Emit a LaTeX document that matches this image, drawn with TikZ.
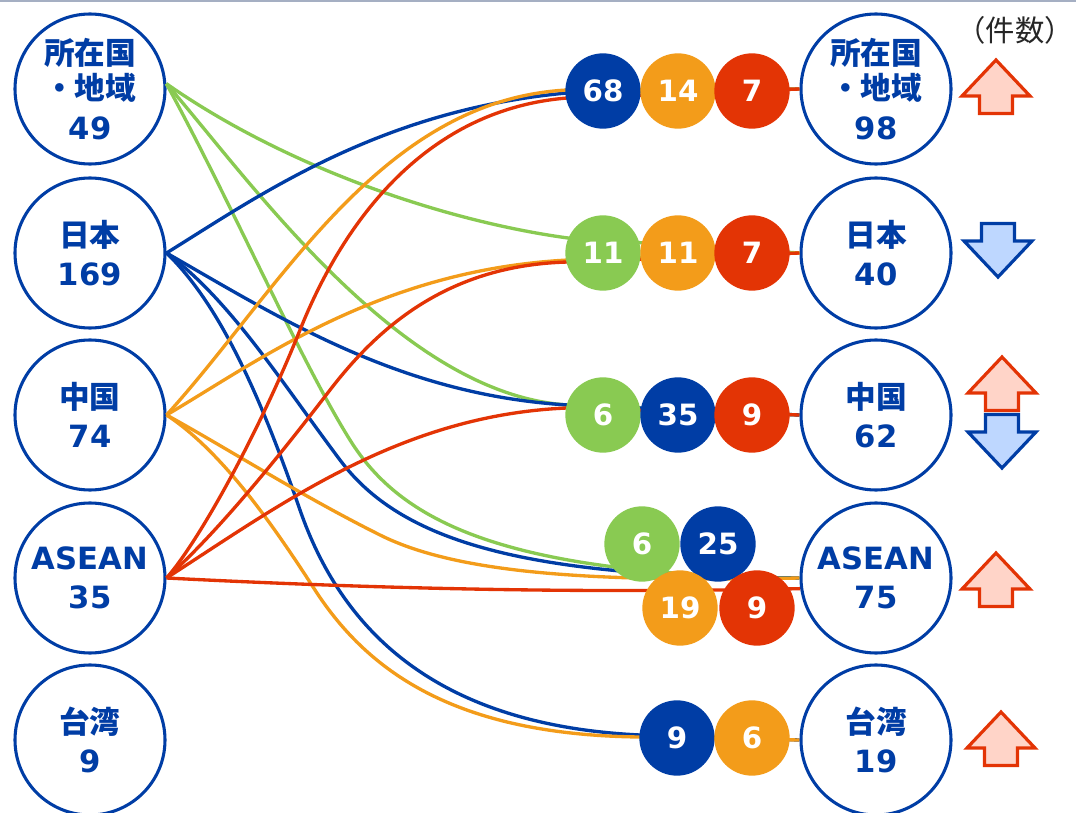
\documentclass[tikz,border=0pt]{standalone}
\usepackage{fontspec}
\setmainfont{DejaVu Sans}
\newfontfamily\cjk{Noto Sans CJK JP}
\definecolor{myblue}{RGB}{0,61,165}
\definecolor{myorange}{RGB}{243,156,26}
\definecolor{myred}{RGB}{227,52,5}
\definecolor{mygreen}{RGB}{137,202,82}
\definecolor{uppink}{RGB}{255,212,200}
\definecolor{downblue}{RGB}{190,215,255}
\definecolor{topgray}{RGB}{165,175,195}
\begin{document}
\begin{tikzpicture}[x=0.75pt,y=-0.75pt,
  big/.style={circle, draw=myblue, line width=2.3pt, minimum size=112.5pt, inner sep=0pt, fill=white, text=myblue, font=\bfseries\fontsize{23}{29.5}\selectfont, align=center},
  bub/.style={circle, minimum size=56.5pt, inner sep=0pt, text=white, font=\bfseries\fontsize{22}{26}\selectfont},
  con/.style={line width=2.5pt},
  gline/.style={con, draw=mygreen},
  bline/.style={con, draw=myblue},
  oline/.style={con, draw=myorange},
  rline/.style={con, draw=myred},
  uparr/.pic={\draw[draw=myred, fill=uppink, line width=2.4pt, line join=miter] (0,-27) -- (34,9) -- (16.5,9) -- (16.5,26.5) -- (-16.5,26.5) -- (-16.5,9) -- (-34,9) -- cycle;},
  downarr/.pic={\draw[draw=myblue, fill=downblue, line width=2.4pt, line join=miter] (0,27) -- (34,-9) -- (16.5,-9) -- (16.5,-26.5) -- (-16.5,-26.5) -- (-16.5,-9) -- (-34,-9) -- cycle;}
]
\useasboundingbox (0,0) rectangle (1076,813);
\draw[line width=1.5pt, topgray] (0,1) -- (1076,1);

% big circles
\node[big] (L1) at (90,89) {{\cjk 所在国}\\[-3pt]{\cjk ・地域}\\49};
\node[big] (L2) at (90,253) {{\cjk 日本}\\169};
\node[big] (L3) at (90,415) {{\cjk 中国}\\74};
\node[big] (L4) at (90,578) {ASEAN\\35};
\node[big] (L5) at (90,740) {{\cjk 台湾}\\9};
\node[big] (R1) at (876,89) {{\cjk 所在国}\\[-3pt]{\cjk ・地域}\\98};
\node[big] (R2) at (876,253) {{\cjk 日本}\\40};
\node[big] (R3) at (876,415) {{\cjk 中国}\\62};
\node[big] (R4) at (876,578) {ASEAN\\75};
\node[big] (R5) at (876,740) {{\cjk 台湾}\\19};

% connectors (drawn before the bubbles)
\draw[gline] (L1.4) .. controls (290,170) and (450,222) .. (568,238) -- (R2.west);
\draw[gline] (L1.4) .. controls (250,180) and (400,395) .. (568,405) -- (R3.west);
\draw[gline] (L1.4) .. controls (230,200) and (300,360) .. (350,440) .. controls (400,520) and (500,575) .. (R4.west);

\draw[bline] (L2.east) .. controls (260,195) and (380,110) .. (567,93) -- (R1.west);
\draw[bline] (L2.east) .. controls (280,318) and (400,395) .. (568,405) -- (R3.west);
\draw[bline] (L2.east) .. controls (230,300) and (280,380) .. (340,460) .. controls (400,540) and (520,578) .. (R4.west);
\draw[bline] (L2.east) .. controls (215,300) and (255,380) .. (300,510) .. controls (340,625) and (430,725) .. (640,735) -- (R5.west);

\draw[oline] (L3.east) .. controls (280,290) and (380,100) .. (567,90) -- (R1.west);
\draw[oline] (L3.east) .. controls (260,360) and (380,270) .. (568,260) -- (R2.west);
\draw[oline] (L3.east) .. controls (230,450) and (300,495) .. (380,535) .. controls (460,575) and (600,582) .. (R4.west);
\draw[oline] (L3.east) .. controls (220,450) and (270,520) .. (315,590) .. controls (370,675) and (460,735) .. (640,737) -- (R5.west);

\draw[rline] (L4.east) .. controls (200,540) and (260,430) .. (300,330) .. controls (340,230) and (420,110) .. (567,98) -- (R1.west);
\draw[rline] (L4.east) .. controls (220,530) and (280,455) .. (330,390) .. controls (380,325) and (450,265) .. (568,262) -- (R2.west);
\draw[rline] (L4.east) .. controls (280,505) and (400,415) .. (567,408) -- (R3.west);
\draw[rline] (L4.east) .. controls (400,590) and (600,593) .. (R4.188);

% bubbles
\node[bub, fill=myblue]   (b1a) at (603,91) {68};
\node[bub, fill=myorange] (b1b) at (678,91) {14};
\node[bub, fill=myred]    (b1c) at (752,91) {7};
\node[bub, fill=mygreen]  (b2a) at (603,253) {11};
\node[bub, fill=myorange] (b2b) at (678,253) {11};
\node[bub, fill=myred]    (b2c) at (752,253) {7};
\node[bub, fill=mygreen]  (b3a) at (603,415) {6};
\node[bub, fill=myblue]   (b3b) at (678,415) {35};
\node[bub, fill=myred]    (b3c) at (752,415) {9};
\node[bub, fill=mygreen]  (b4a) at (642,544) {6};
\node[bub, fill=myblue]   (b4b) at (718,544) {25};
\node[bub, fill=myorange] (b4c) at (680,608) {19};
\node[bub, fill=myred]    (b4d) at (757,608) {9};
\node[bub, fill=myblue]   (b5a) at (677,738) {9};
\node[bub, fill=myorange] (b5b) at (752,738) {6};

% trend arrows
\pic at (996,87) {uparr};
\pic at (998,250) {downarr};
\pic at (1002,384) {uparr};
\pic at (1002,441) {downarr};
\pic at (996,580) {uparr};
\pic at (1001,739) {uparr};

\node[anchor=east, inner sep=0pt, text=black!85, font=\cjk\fontsize{22}{26}\selectfont] (unit) at (1074,30) {（件数）};
\end{tikzpicture}
\end{document}
